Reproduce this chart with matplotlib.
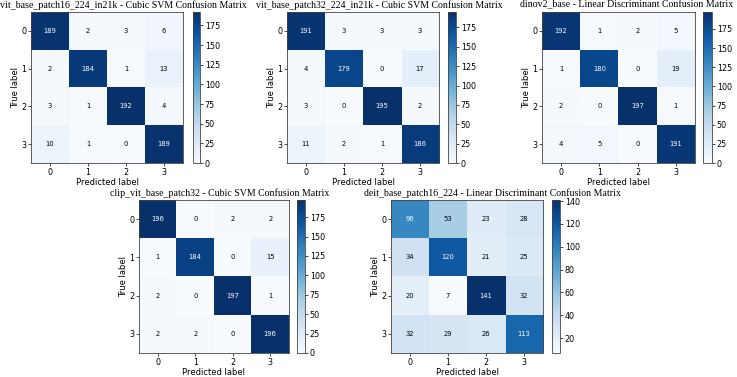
import numpy as np
import matplotlib
matplotlib.use("Agg")
import matplotlib.pyplot as plt

titles = [
    "vit_base_patch16_224_in21k - Cubic SVM Confusion Matrix",
    "vit_base_patch32_224_in21k - Cubic SVM Confusion Matrix",
    "dinov2_base - Linear Discriminant Confusion Matrix",
    "clip_vit_base_patch32 - Cubic SVM Confusion Matrix",
    "deit_base_patch16_224 - Linear Discriminant Confusion Matrix",
]
cm_vit16 = [[189, 2, 3, 6], [2, 184, 1, 13], [3, 1, 192, 4], [10, 1, 0, 189]]
cm_vit32 = [[191, 3, 3, 3], [4, 179, 0, 17], [3, 0, 195, 2], [11, 2, 1, 186]]
cm_dinov2 = [[192, 1, 2, 5], [1, 180, 0, 19], [2, 0, 197, 1], [4, 5, 0, 191]]
cm_clip = [[196, 0, 2, 2], [1, 184, 0, 15], [2, 0, 197, 1], [2, 2, 0, 196]]
cm_deit = [[96, 53, 23, 28], [34, 120, 21, 25], [20, 7, 141, 32], [32, 29, 26, 113]]
matrices = [cm_vit16, cm_vit32, cm_dinov2, cm_clip, cm_deit]
class_labels = ["0", "1", "2", "3"]

W, H = 737, 377
fig = plt.figure(figsize=(W / 100, H / 100), dpi=100)

# pixel boxes: (ax_left, ax_right, top, bottom, cb_left, cb_right, title_x, title_y)
boxes = [
    (31, 183, 12, 163, 193, 200, 123, 5),
    (287, 439, 12, 163, 448, 456, 379, 5),
    (542, 695, 12, 163, 703, 712, 627, 5),
    (139, 289, 200, 353, 297, 305, 220, 193),
    (391, 543, 200, 353, 552, 560, 493, 193),
]

def frac(l, r, t, b):
    return [l / W, (H - b) / H, (r - l) / W, (b - t) / H]

for cm, title, (l, r, t, b, cl, cr, tx, ty) in zip(matrices, titles, boxes):
    cm = np.array(cm)
    ax = fig.add_axes(frac(l, r, t, b))
    cax = fig.add_axes(frac(cl, cr, t, b))
    im = ax.imshow(cm, cmap="Blues", interpolation="nearest", aspect="auto")
    cb = fig.colorbar(im, cax=cax)
    cb.ax.tick_params(labelsize=5.8, length=2, width=0.5, pad=1.5)
    cb.outline.set_linewidth(0.6)
    cb.outline.set_edgecolor("#444444")
    thresh = (cm.max() + cm.min()) / 2.0
    for i in range(cm.shape[0]):
        for j in range(cm.shape[1]):
            ax.text(j, i, str(cm[i, j]), ha="center", va="center", fontsize=4.9,
                    color="white" if cm[i, j] > thresh else "black")
    ax.set_xticks(range(4))
    ax.set_yticks(range(4))
    ax.set_xticklabels(class_labels)
    ax.set_yticklabels(class_labels)
    ax.tick_params(labelsize=5.8, length=2, width=0.5, pad=1.5)
    for s in ax.spines.values():
        s.set_linewidth(0.6)
        s.set_edgecolor("#444444")
    ax.set_xlabel("Predicted label", fontsize=6, labelpad=1)
    ax.set_ylabel("True label", fontsize=6, labelpad=1)
    fig.text(tx / W, 1 - ty / H, title, fontsize=7.1, family="Liberation Serif",
             ha="center", va="center")

fig.savefig("out.png", dpi=100)
